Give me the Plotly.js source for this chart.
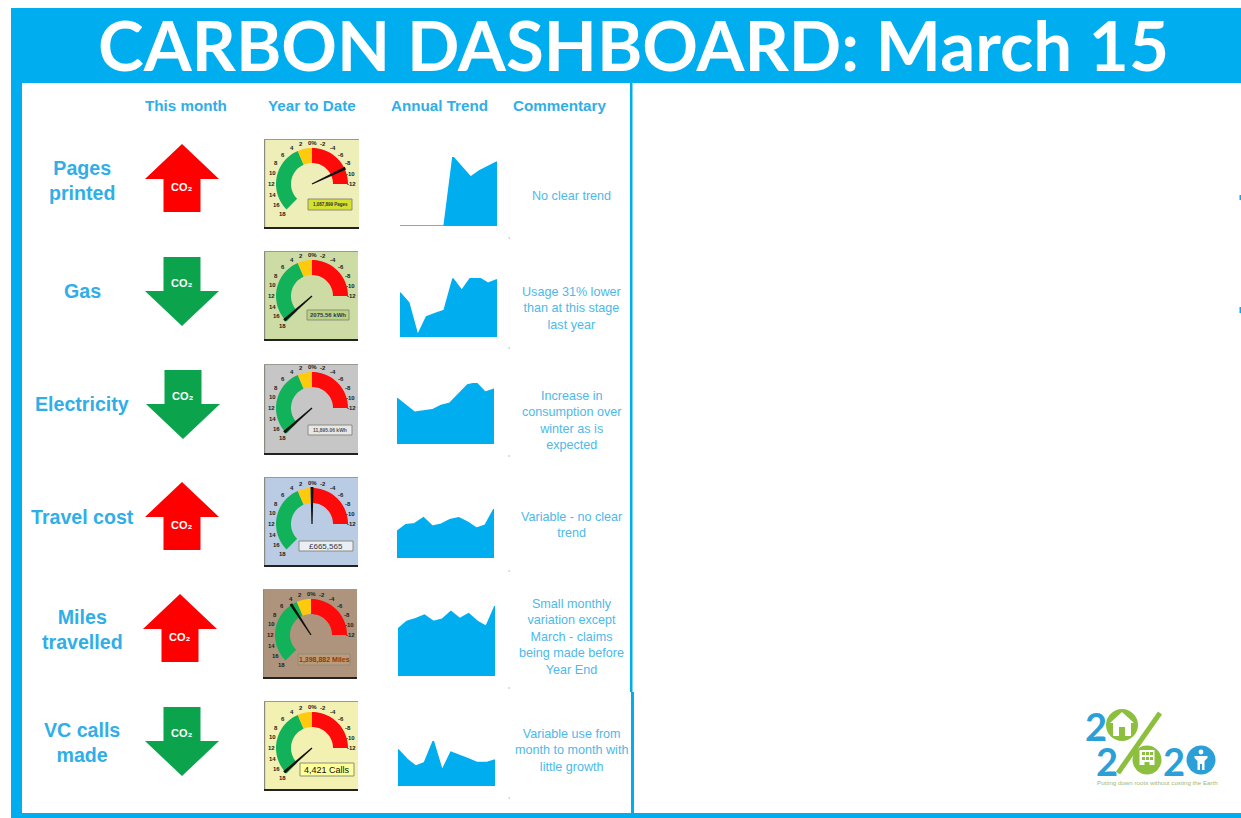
<!DOCTYPE html>
<html>
<head>
<meta charset="utf-8">
<script src="https://cdn.plot.ly/plotly-3.0.1.min.js"></script>
<style>html,body{margin:0;padding:0;background:#fff;overflow:hidden}#chart{width:1241px;height:818px}</style>
</head>
<body>
<div id="chart"></div>
<script>
// ---- data ----
const titleText = "CARBON DASHBOARD: March 15";
const columnHeads = ["This month", "Year to Date", "Annual Trend", "Commentary"];
const rowLabels = ["Pages<br>printed", "Gas", "Electricity", "Travel cost", "Miles<br>travelled", "VC calls<br>made"];
const directions = ["up", "down", "down", "up", "up", "down"];
const months = ["Apr","May","Jun","Jul","Aug","Sep","Oct","Nov","Dec","Jan","Feb","Mar"];
const pagesTrend = [0,0,0,0,0,0,100,86,71,80,86,93];
const gasTrend = [75,58,3,34,40,45,99,79,100,100,91,97];
const electricityTrend = [75,63,52,54,56,63,67,82,97,100,85,90];
const travelTrend = [54,68,70,82,65,69,78,82,73,61,67,100];
const milesTrend = [67,78,82,87,78,81,92,82,89,78,71,100];
const callsTrend = [81,60,44,52,100,35,75,68,60,52,52,58];
const needleValues = [-8.6, 17.5, 17.5, 0, 4.4, 17.5];
const gaugeTicks = [18,16,14,12,10,8,6,4,2,0,-2,-4,-6,-8,-10,-12];
const readouts = ["1,087,899 Pages", "2075.56 kWh", "11,895.06 kWh", "£665,565", "1,398,882 Miles", "4,421 Calls"];
const commentary = [
  "No clear trend",
  "Usage 31% lower<br>than at this stage<br>last year",
  "Increase in<br>consumption over<br>winter as is<br>expected",
  "Variable - no clear<br>trend",
  "Small monthly<br>variation except<br>March - claims<br>being made before<br>Year End",
  "Variable use from<br>month to month with<br>little growth"
];
const logoTagline = "Putting down roots without costing the Earth";

// ---- page geometry and styles ----
const W = 1241, H = 818;
const BLUE = "#00AEEF", TXT = "#30AEE8", TXT2 = "#4DB9EA";
const trends = [pagesTrend, gasTrend, electricityTrend, travelTrend, milesTrend, callsTrend];
const trendBoxes = [[400,497,157,226],[400,497,278,337],[397,494,383,444],[397,494,509,558],[398,495,606,676],[398,495,741,786]];
const labelY = [180,291,404,517,629,742];
const labelX = 82;
const arrowBoxes = [[182,144,212],[182,257,326],[183,370,439],[182,482,550],[180,594,662],[182,707,776]];
const gaugeBoxes = [[264,139,359,229],[264,251,358,341],[264,364,358,455],[264,477,358,567],[263,589,357,679],[264,701,358,791]];
const gaugeFills = ["#EEEEB8","#CDDCA4","#C6C6C6","#B9CCE3","#AE947C","#F3F1B2"];
const pivots = [[312,184],[312,296],[312,408],[312,524],[311,635],[312,748]];
const readoutBoxes = [[308,199,352,210],[307,310,349,320],[308,425,352,435],[299,541,353,551],[298,654,350,665],[300,763,354,776]];
const readoutFills = ["#D6E02E","#B9D480","#E8E8E8","#E9EFF5","#BE9A78","#FFFF9C"];
const readoutColors = ["#333","#335","#555","#334","#8A3A14","#111"];
const readoutSizes = [4.5,6,5,8,7,9];
const commentY = [196,308,420,525,637,750];
const specksY = [238,348,456,571,688,798];

const px = x => x / W, py = y => 1 - y / H;
const pt = (x, y) => px(x).toFixed(5) + "," + py(y).toFixed(5);
const shapes = [], annos = [];
function poly(points, fill, extra) {
  shapes.push(Object.assign({type:"path", xref:"paper", yref:"paper", layer:"below",
    path:"M" + points.map(p => pt(p[0], p[1])).join("L") + "Z",
    fillcolor:fill, line:{width:0}}, extra || {}));
}
function rect(x0,y0,x1,y1,fill,line) {
  shapes.push({type:"rect", xref:"paper", yref:"paper", layer:"below",
    x0:px(x0), x1:px(x1), y0:py(y1), y1:py(y0), fillcolor:fill, line:line || {width:0}});
}
function circ(cx,cy,r,fill,line) {
  shapes.push({type:"circle", xref:"paper", yref:"paper", layer:"below",
    x0:px(cx-r), x1:px(cx+r), y0:py(cy+r), y1:py(cy-r), fillcolor:fill, line:line || {width:0}});
}
function text(x,y,t,size,color,bold,family) {
  annos.push({xref:"paper", yref:"paper", x:px(x), y:py(y), text:t, showarrow:false,
    xanchor:"center", yanchor:"middle", borderpad:0, align:"center",
    font:{size:size, color:color, family:family || "Liberation Sans", weight:bold ? 700 : 400}});
}

// frame
rect(11,8,W,83,BLUE);
rect(11,83,22,H,BLUE);
rect(11,813,W,H,BLUE);
rect(630,83,632.5,692,BLUE);
rect(631,692,634,813,BLUE);
rect(1239.5,195,1241,200,BLUE);
rect(1239.5,307,1241,313,BLUE);
text(633,45,titleText,69,"#ffffff",true,"Lato");

// column heads
[186,312,439,559].forEach((x,i) => text(x,105.5,columnHeads[i],15.2,TXT,true));

// rows
rowLabels.forEach((t,i) => {
  text(labelX,labelY[i],t,19.6,TXT,true);
  text(571,commentY[i],commentary[i],12.6,TXT2,false);
  rect(508.5,specksY[i]-0.7,510,specksY[i]+0.7,"#C9C9C9");

  // arrow
  const [cx,top,bot] = arrowBoxes[i];
  const up = directions[i] === "up";
  const hw = 37, sw = 18.5;
  const col = up ? "#FF0000" : "#0BA34C";
  if (up) {
    poly([[cx,top],[cx+hw,top+35],[cx+sw,top+35],[cx+sw,bot],[cx-sw,bot],[cx-sw,top+35],[cx-hw,top+35]],col);
    text(cx,top+43,"CO₂",11,"#fff",true);
  } else {
    poly([[cx,bot],[cx+hw,bot-35],[cx+sw,bot-35],[cx+sw,top],[cx-sw,top],[cx-sw,bot-35],[cx-hw,bot-35]],col);
    text(cx,top+26,"CO₂",11,"#fff",true);
  }

  // gauge background
  const [gx0,gy0,gx1,gy1] = gaugeBoxes[i];
  rect(gx0,gy0,gx1,gy1,gaugeFills[i]);
  rect(gx0,gy0,gx0+1.2,gy1,"#8a8a80");
  rect(gx0,gy0,gx1,gy0+1,"#9a9a90");
  rect(gx0,gy1-2,gx1,gy1,"#222");

  // gauge zones, from the gauge scale
  const [pxc,pyc] = pivots[i];
  const ang = v => -v * 7.5 * Math.PI / 180;
  const P = (v,r) => [pxc + r*Math.sin(ang(v)), pyc - r*Math.cos(ang(v))];
  const zone = (from,to,fill) => {
    const a = [], b = [];
    const n = Math.max(4, Math.round(Math.abs(from-to)*2));
    for (let k=0;k<=n;k++) {
      const v = from + (to-from)*k/n;
      a.push(P(v,36)); b.unshift(P(v,21));
    }
    poly(a.concat(b),fill);
  };
  zone(18,3.1,"#12B25A");
  zone(3.1,0,"#FFC90E");
  zone(0,-12,"#FF0A0A");
  gaugeTicks.forEach(v => {
    const r = v === 18 ? 42 : v === -12 ? 39 : v === -10 ? 39.5 : 41;
    const p = P(v, r);
    text(p[0],p[1], v === 0 ? "0%" : String(v), 6, "#222", true);
  });

  // readout
  const [r0,r1,r2,r3] = readoutBoxes[i];
  rect(r0,r1,r2,r3,readoutFills[i],{width:1,color:"#8c8c7c"});
  text((r0+r2)/2,(r1+r3)/2,readouts[i],readoutSizes[i],readoutColors[i],i!==5 && i!==3);

  // needle
  const tip = P(needleValues[i],37);
  const th = ang(needleValues[i]);
  const nx = Math.cos(th)*1.5, ny = Math.sin(th)*1.5;
  shapes.push({type:"path", xref:"paper", yref:"paper", layer:"above",
    path:"M"+pt(pxc-nx*0.4,pyc-ny*0.4)+"L"+pt(pxc+nx*0.4,pyc+ny*0.4)+"L"+pt(tip[0]+nx,tip[1]+ny)+"L"+pt(tip[0]-nx,tip[1]-ny)+"Z",
    fillcolor:"#111", line:{width:0}});
});

// logo
const LB = "#2A9FD8", LG = "#8DBF3F";
text(1096,726,"2",38,LB,true,"Lato");
circ(1122,725,16,LG);
poly([[1122,712],[1134,723],[1131,723],[1131,736],[1113,736],[1113,723],[1110,723]],"#fff");
rect(1119,727,1125,736,LG);
shapes.push({type:"line", xref:"paper", yref:"paper", layer:"below",
  x0:px(1160), y0:py(713), x1:px(1118), y1:py(773), line:{color:LG,width:5}});
text(1107,761,"2",38,LB,true,"Lato");
circ(1147,760,14.5,LG);
rect(1139.5,750,1154.5,765,"#fff");
rect(1142,752,1145,755,LG); rect(1146,752,1149,755,LG); rect(1150,752,1153,755,LG);
rect(1142,757,1145,760,LG); rect(1146,757,1149,760,LG); rect(1150,757,1153,760,LG);
rect(1144.5,762,1149.5,769,LG);
text(1174,761,"2",38,LB,true,"Lato");
circ(1201,760,14.5,LB);
circ(1201,752,2.4,"#fff");
poly([[1194.5,756],[1207.5,756],[1207.5,758],[1204.5,761],[1204.5,770],[1202,770],[1202,764],[1200,764],[1200,770],[1197.5,770],[1197.5,761],[1194.5,758]],"#fff");
text(1157,782,logoTagline,6.2,"#9FB878",false);

// trend charts: one small hidden-axis subplot each
const traces = [], layout = {
  width:W, height:H, margin:{l:0,r:0,t:0,b:0},
  paper_bgcolor:"#fff", plot_bgcolor:"rgba(0,0,0,0)", showlegend:false,
  shapes:shapes, annotations:annos
};
trends.forEach((vals,i) => {
  const n = i === 0 ? "" : String(i+1);
  const [x0,x1,t,b] = trendBoxes[i];
  traces.push({type:"scatter", mode:"lines", x:months, y:vals, xaxis:"x"+n, yaxis:"y"+n,
    fill:"tozeroy", fillcolor:BLUE, line:{color:BLUE,width:1.5,shape:"linear"}, hoverinfo:"skip"});
  layout["xaxis"+n] = {domain:[px(x0),px(x1)], type:"category", categoryorder:"array", categoryarray:months,
    range:[0,11], visible:false, fixedrange:true, anchor:"y"+n};
  layout["yaxis"+n] = {domain:[py(b),py(t)], range:[0,100], visible:false, fixedrange:true, anchor:"x"+n};
});

Plotly.newPlot("chart", traces, layout, {displayModeBar:false, staticPlot:true});
</script>
</body>
</html>
